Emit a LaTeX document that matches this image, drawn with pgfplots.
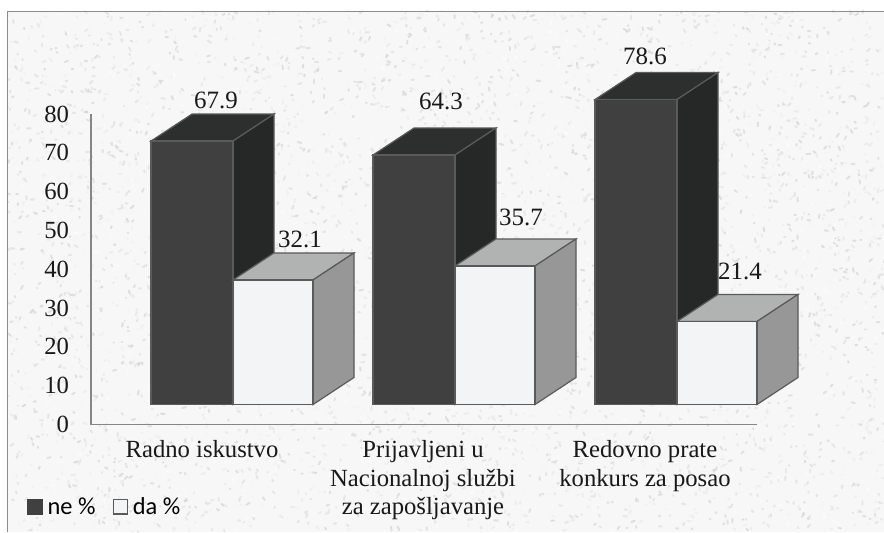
\documentclass[border=0pt]{standalone}
\usepackage{pgfplots}
\usepackage{fontspec}
\setmainfont{Liberation Serif}
\newfontfamily\legfont{Carlito}
\pgfplotsset{compat=1.18}
\definecolor{dfront}{HTML}{404040}
\definecolor{dtop}{HTML}{2D2E2E}
\definecolor{dside}{HTML}{262827}
\definecolor{wfront}{HTML}{F3F4F6}
\definecolor{wtop}{HTML}{B1B3B2}
\definecolor{wside}{HTML}{979797}
\definecolor{edge}{HTML}{5A5A5A}
\definecolor{axl}{HTML}{868686}
\begin{document}
\begin{tikzpicture}[x=0.75pt,y=0.75pt]
\useasboundingbox (0,0) rectangle (884,532);
\fill[white] (0,0) rectangle (884,532);
\begin{scope}
\clip (7,0) rectangle (884,521);
\fill[black!3] (7,0) rectangle (884,521);
\pgfmathsetseed{4242}
\foreach \i in {1,...,5500}{
  \pgfmathsetmacro{\px}{7+rnd*877}
  \pgfmathsetmacro{\py}{rnd*521}
  \pgfmathsetmacro{\ang}{rnd*180}
  \pgfmathsetmacro{\len}{0.5+rnd*3.5}
  \pgfmathsetmacro{\shade}{rnd*20}
  \draw[black!\shade,line width=1.5pt,line cap=round,opacity=0.6] (\px,\py) -- ++(\ang:\len);
}
\end{scope}
\draw[color=black!45,line width=1.1pt] (7.5,0) -- (7.5,520.5) -- (884,520.5);
%
% back wall axis: y from 0 to 80
\begin{axis}[
  at={(91pt*0.75,107.5pt*0.75)},anchor=south west,
  scale only axis,width=666*0.75pt,height=310.5*0.75pt,
  xmin=91,xmax=757,ymin=0,ymax=80,
  axis x line=bottom,axis y line=left,
  axis line style={draw=axl,line width=1.1pt,-},
  ytick={0,10,...,80},
  xtick={202,423,645},
  xticklabels={Radno iskustvo,{Prijavljeni u\\Nacionalnoj službi\\za zapošljavanje},{Redovno prate\\konkurs za posao}},
  major tick length=0pt,
  tick label style={font=\fontsize{18.5}{21.4}\selectfont,text=black!90},
  /pgf/number format/assume math mode=true,
  yticklabel style={anchor=east,xshift=-13pt},
  xticklabel style={align=center,anchor=north,yshift=-8.5pt},
]
\end{axis}
%
% bars: x in reference pixels, y in values
\begin{axis}[
  at={(0,0)},anchor=south west,
  scale only axis,width=663pt,height=399pt,
  xmin=0,xmax=884,ymin=-32.86,ymax=104.25,
  axis lines=none,clip=false,
  legend style={draw=none,fill=none,at={(axis cs:27,-26.4)},anchor=west,
    font=\legfont\fontsize{18.3}{20}\selectfont,legend columns=2,inner sep=0pt,
    /tikz/every odd column/.append style={column sep=1.5pt},
    /tikz/every even column/.append style={column sep=10.8pt}},
  legend image code/.code={\draw[#1,line width=0.9pt] (0,-5.3pt) rectangle (10.8pt,5.3pt);},
  every axis plot/.append style={draw=edge,line width=0.9pt},
]
\addlegendimage{fill=dfront,draw=dfront}\addlegendentry{ne \%}
\addlegendimage{fill=wfront,draw=edge}\addlegendentry{da \%}
% dark series: top and side faces
\addplot[fill=dtop,forget plot] coordinates {(151,67.9)(233,67.9)(274,74.86)(192,74.86)} --cycle;
\addplot[fill=dside,forget plot] coordinates {(233,0)(274,6.96)(274,74.86)(233,67.9)} --cycle;
\addplot[fill=dtop,forget plot] coordinates {(373,64.3)(455,64.3)(496,71.26)(414,71.26)} --cycle;
\addplot[fill=dside,forget plot] coordinates {(455,0)(496,6.96)(496,71.26)(455,64.3)} --cycle;
\addplot[fill=dtop,forget plot] coordinates {(595,78.6)(677,78.6)(718,85.56)(636,85.56)} --cycle;
\addplot[fill=dside,forget plot] coordinates {(677,0)(718,6.96)(718,85.56)(677,78.6)} --cycle;
% dark series: front faces
\addplot[ybar,bar width=61.5pt,bar shift=0pt,fill=dfront,forget plot] coordinates {(192,67.9)(414,64.3)(636,78.6)};
% light series: top and side faces
\addplot[fill=wtop,forget plot] coordinates {(233,32.1)(313,32.1)(354,39.06)(274,39.06)} --cycle;
\addplot[fill=wside,forget plot] coordinates {(313,0)(354,6.96)(354,39.06)(313,32.1)} --cycle;
\addplot[fill=wtop,forget plot] coordinates {(455,35.7)(535,35.7)(576,42.66)(496,42.66)} --cycle;
\addplot[fill=wside,forget plot] coordinates {(535,0)(576,6.96)(576,42.66)(535,35.7)} --cycle;
\addplot[fill=wtop,forget plot] coordinates {(677,21.4)(757,21.4)(798,28.36)(718,28.36)} --cycle;
\addplot[fill=wside,forget plot] coordinates {(757,0)(798,6.96)(798,28.36)(757,21.4)} --cycle;
% light series: front faces
\addplot[ybar,bar width=60pt,bar shift=0pt,fill=wfront,forget plot] coordinates {(273,32.1)(495,35.7)(717,21.4)};
% data labels
\begin{scope}[every node/.style={font=\fontsize{18.7}{20}\selectfont,text=black!90}]
\node at (axis cs:216,78.3) {67.9};
\node at (axis cs:300,42.65) {32.1};
\node at (axis cs:441,78.0) {64.3};
\node at (axis cs:521,48.3) {35.7};
\node at (axis cs:645,89.6) {78.6};
\node at (axis cs:740,34.4) {21.4};
\end{scope}
\end{axis}
\end{tikzpicture}
\end{document}
